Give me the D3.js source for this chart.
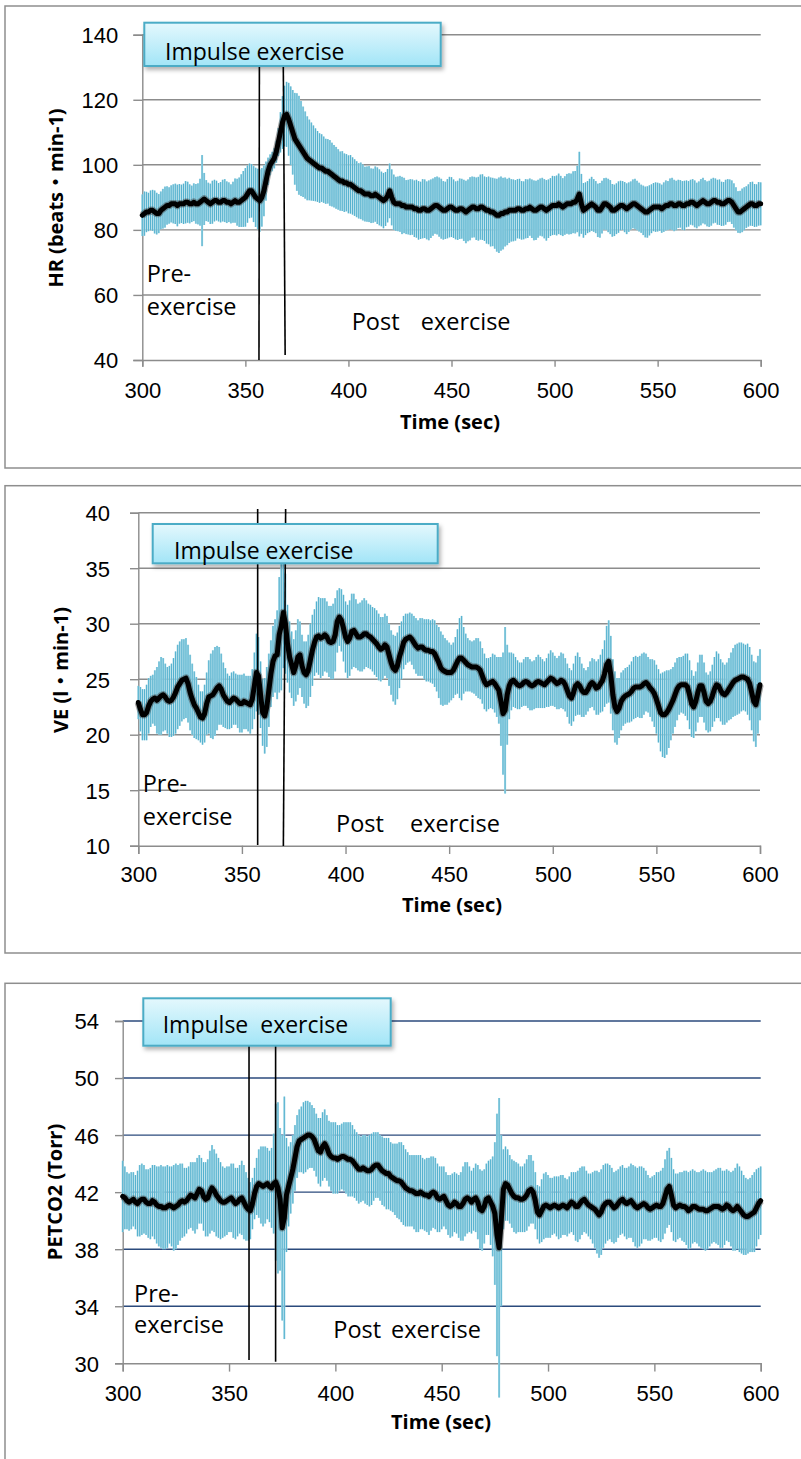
<!DOCTYPE html>
<html>
<head>
<meta charset="utf-8">
<script src="https://cdn.jsdelivr.net/npm/d3@7"></script>
<style>
  body { margin: 0; background: #fff; }
  .tick text { font-family: "Liberation Sans", Arial, sans-serif; font-size: 22px; fill: #000; }
  .lbl { font-family: "Open Sans", "Noto Sans CJK JP", sans-serif; fill: #000; }
</style>
</head>
<body>
<svg id="chart"></svg>
<script>
// time axis, one reading per second
var times = d3.range(300, 601);

// HR (beats/min) mean and SD, 300..600 s
var hrMean = [
  84.5,85,85.5,85.5,86,86,85.5,85,85,86,
  86.5,87,87.5,87.5,88,88,88,87.5,88,88,
  88,88.5,88.5,88,88,88.5,88,88,88.5,89,
  89.5,89,88.5,88,88.5,89,89,88.5,88.5,89,
  89,88.5,88.5,88,88.5,89,88.5,88.5,89,89.5,
  90,91,92,92,91,90,89.5,89,90,92,
  95,98,100,101,102,104,107,110,113,115,
  115.5,114,112,110,108,107,106,105,104,103,
  102,101.5,101,100.5,100,99.5,99,99,98.5,98,
  98,97.5,97,96.5,96,95.5,95,95,94.5,94.5,
  94,94,93.5,93,92.5,92,92,91.5,91,91,
  91,90.5,90.5,91,90.5,90,89.5,89,89.5,90.5,
  92,90,88.5,88,88,88,87.5,87.5,87,87,
  87,87,86.5,86.5,86,86,86.5,86.5,86,86,
  86.5,87,87.5,87.5,87,86.5,86,86,86.5,87,
  87,86.5,86,86,86.5,86.5,86,85.5,86,86.5,
  87,87,86.5,86.5,87,87,86.5,86,86,85.5,
  85.5,85,84.5,84.5,85,85,85.5,85.5,86,86,
  86,86,86.5,86.5,86,86,86.5,86.5,87,86.5,
  86,86,86.5,87,87,86.5,86,86.5,87,87.5,
  87.5,87.5,88,87.5,87,87.5,88,88,88,88.5,
  88.5,89.5,91,88,86,86.5,87,87.5,88,87.5,
  87,86,86,87,88,88,87.5,87,86,86,
  86.5,87,87.5,87.5,87,86.5,87,87.5,88,88,
  87.5,87,86.5,86,85.5,85.5,86,86.5,87,87,
  87,87,86.5,87,87.5,87.5,88,88,87.5,87.5,
  88,88,87.5,87.5,88,88,88.5,88.5,88,87.5,
  88,88.5,89,88.5,88,88,88.5,89,89,88.5,
  88.5,88,88,88.5,89,89,88.5,87.5,86.5,85.5,
  85.5,86,86.5,87,87.5,88,88,87.5,87.5,88,
  88
];
var hrSd = [
  6.4,6.8,6.2,5.9,6.1,6.3,6.6,6.4,6.0,5.8,
  6.1,6.3,5.9,5.6,5.7,6.0,6.2,6.4,6.1,5.9,
  6.2,6.5,6.3,6.0,5.6,5.8,6.1,6.3,7.2,14.0,
  8.0,6.3,6.0,6.2,6.6,6.4,6.1,5.9,6.2,6.4,
  6.6,6.4,6.1,6.0,6.3,6.8,7.2,7.6,8.1,8.6,
  9.0,8.8,8.4,8.2,8.6,9.1,9.3,9.6,9.0,7.8,
  6.0,4.2,3.2,3.0,3.1,3.4,4.3,6.2,8.1,9.3,
  10.0,11.2,12.1,13.0,14.1,15.0,15.2,14.6,13.9,13.4,
  12.9,12.4,12.0,11.6,11.2,10.9,10.7,10.4,10.2,10.0,
  9.9,10.1,9.8,9.6,9.5,9.3,9.1,9.2,9.0,8.8,
  8.9,9.0,8.8,8.7,8.6,8.5,8.7,8.6,8.4,8.5,
  8.6,8.4,8.3,8.5,8.7,8.6,8.4,8.5,8.3,8.2,
  8.4,8.6,8.5,8.3,8.4,8.6,8.8,8.5,8.3,8.4,
  8.6,8.5,8.7,8.9,9.0,8.8,9.1,9.0,8.9,9.2,
  9.0,8.8,8.7,8.9,9.1,9.2,9.0,8.8,9.1,9.3,
  9.2,9.0,8.9,9.1,9.3,9.2,9.4,9.6,9.5,9.7,
  9.4,9.3,9.6,9.8,10.0,10.1,9.9,10.2,10.4,10.6,
  10.5,10.8,11.2,11.6,11.4,11.0,10.6,10.2,10.0,9.6,
  9.5,9.3,9.1,9.2,9.0,8.9,9.1,9.0,8.8,9.0,
  9.2,9.1,8.9,8.8,9.0,9.1,9.3,9.0,8.9,9.1,
  9.0,9.2,9.3,9.1,8.9,9.0,9.2,9.4,9.3,9.5,
  9.6,10.2,13.0,9.2,8.4,8.1,8.0,8.2,8.3,8.1,
  8.0,8.2,8.4,8.1,7.9,8.0,8.2,8.3,8.1,7.9,
  7.8,7.9,7.6,7.5,7.7,7.8,7.6,7.4,7.5,7.7,
  7.6,7.5,7.4,7.6,7.8,7.9,7.7,7.5,7.4,7.6,
  7.5,7.3,7.4,7.6,7.7,7.5,7.8,8.0,7.9,7.6,
  7.4,7.3,7.5,7.6,7.2,7.0,6.9,7.1,7.2,7.0,
  6.9,7.1,7.0,6.8,6.9,7.1,7.2,7.0,6.8,6.9,
  7.0,6.8,6.7,6.9,6.6,6.5,6.7,6.8,6.6,6.4,
  6.5,6.7,6.6,6.4,6.5,6.7,6.8,6.6,6.5,6.7,
  6.6
];

// VE (l/min) mean and SD
var veMean = [
  22.9,22.3,21.8,21.8,22.0,22.6,23.0,23.2,23.3,23.1,
  23.3,23.5,23.6,23.4,23.1,23.0,23.1,23.4,23.8,24.3,
  24.6,24.9,25.0,25.1,24.6,23.8,23.2,22.7,22.4,22.0,
  21.6,21.5,21.9,22.8,23.4,23.5,23.6,23.9,24.2,24.4,
  24.1,23.6,23.3,23.0,22.9,23.1,23.3,23.2,23.0,22.8,
  22.8,23.0,22.9,22.8,22.7,23.2,24.4,25.6,25.3,23.6,
  22.0,21.7,22.5,24.0,25.5,26.6,27.1,27.2,29.0,29.8,
  31.0,30.0,28.2,27.0,26.3,25.6,26.2,27.0,27.2,26.2,
  25.6,25.4,25.8,26.7,27.6,28.3,28.8,28.9,28.7,28.8,
  29.0,28.8,28.4,28.3,28.4,29.0,30.2,30.6,30.3,29.6,
  28.8,28.4,28.7,29.3,29.4,29.1,28.8,28.8,28.9,29.1,
  29.1,28.9,28.8,28.6,28.4,28.2,27.9,27.7,27.8,28.1,
  27.9,27.2,26.5,26.0,25.8,26.2,27.0,27.6,28.3,28.6,
  28.7,28.8,28.6,28.3,28.0,27.8,27.9,27.9,27.7,27.6,
  27.6,27.5,27.5,27.3,26.9,26.5,26.0,25.8,25.7,25.6,
  25.6,25.6,25.8,26.2,26.6,26.9,26.9,26.7,26.5,26.3,
  26.2,26.1,26.1,26.1,26.0,25.8,25.3,24.8,24.5,24.6,
  24.7,24.8,24.6,24.3,24.0,23.0,21.9,22.2,23.6,24.4,
  24.8,24.9,24.7,24.5,24.4,24.5,24.7,24.8,24.7,24.5,
  24.4,24.5,24.7,24.8,24.7,24.6,24.5,24.7,24.9,25.1,
  25.0,24.8,24.6,24.7,24.9,24.8,24.5,24.0,23.5,23.3,
  23.8,24.4,24.6,24.4,24.0,23.8,23.8,24.1,24.5,24.7,
  24.5,24.2,24.3,24.6,24.9,25.5,26.3,26.6,25.4,23.6,
  22.5,22.1,22.4,23.0,23.3,23.5,23.6,23.7,23.9,24.2,
  24.3,24.3,24.3,24.4,24.6,24.7,24.5,24.2,24.0,23.7,
  23.2,22.6,22.0,21.8,21.8,22.0,22.3,22.7,23.1,23.6,
  24.1,24.4,24.5,24.5,24.5,24.3,23.6,22.8,22.5,23.0,
  23.8,24.4,24.4,23.8,23.0,22.8,23.0,23.5,24.1,24.5,
  24.4,24.0,23.7,23.6,23.8,24.1,24.4,24.7,24.9,25.0,
  25.1,25.2,25.2,25.1,25.0,24.6,23.8,23.0,22.7,23.6,
  24.5
];
var veSd = [
  1.5,2.0,2.3,2.3,2.5,2.5,2.3,2.2,2.5,3.0,
  3.3,3.5,3.3,3.0,3.0,3.2,3.3,3.5,3.7,3.8,
  3.8,3.7,3.6,3.6,3.5,3.4,3.2,3.0,2.8,2.5,
  2.3,2.4,2.6,2.8,3.3,3.8,4.0,4.0,3.8,3.5,
  3.2,2.9,2.7,2.5,2.4,2.5,2.4,2.3,2.4,2.6,
  2.6,2.5,2.4,2.5,2.6,2.7,3.0,3.5,3.5,3.0,
  3.0,3.4,3.6,3.3,3.0,3.2,3.3,4.0,5.2,5.8,
  5.0,4.5,3.5,3.2,3.0,3.0,3.2,3.4,3.0,2.8,
  2.8,3.0,3.2,3.3,3.2,3.0,3.2,3.5,3.6,3.5,
  3.3,3.2,3.2,3.3,3.4,3.3,2.8,2.6,2.8,3.0,
  3.2,3.3,3.4,3.4,3.3,3.1,3.0,3.1,3.2,3.2,
  3.0,2.9,2.9,2.9,3.0,3.0,3.0,2.9,2.8,2.8,
  2.8,2.8,2.9,3.0,3.1,3.0,2.8,2.6,2.4,2.3,
  2.2,2.2,2.3,2.4,2.5,2.5,2.6,2.6,2.7,2.8,
  2.8,2.8,2.9,3.0,3.0,3.2,3.3,3.2,3.0,2.9,
  2.7,2.5,2.5,2.6,2.9,3.6,3.8,3.0,2.6,2.4,
  2.3,2.3,2.4,2.6,2.7,2.6,2.5,2.5,2.4,2.3,
  2.3,2.5,2.6,2.7,3.0,4.0,5.5,7.5,4.5,3.0,
  2.6,2.4,2.3,2.2,2.1,2.0,2.1,2.2,2.3,2.3,
  2.2,2.2,2.3,2.4,2.3,2.2,2.1,2.2,2.4,2.5,
  2.4,2.3,2.3,2.4,2.5,2.5,2.4,2.4,2.5,2.5,
  2.6,2.7,2.8,2.6,2.4,2.2,2.0,2.0,2.1,2.2,
  2.3,2.4,2.5,2.6,2.8,3.0,3.5,3.7,3.5,3.2,
  3.2,3.0,2.7,2.6,2.5,2.5,2.5,2.6,2.7,2.8,
  2.8,2.7,2.8,2.9,2.8,2.6,2.5,2.6,2.8,3.0,
  3.1,3.3,3.5,3.8,3.9,3.8,3.5,3.2,3.0,2.9,
  2.8,2.6,2.5,2.6,2.8,3.0,3.1,3.0,2.8,2.7,
  2.7,2.8,2.8,2.7,2.6,2.6,2.7,2.8,2.9,3.0,
  2.9,2.8,2.8,2.7,2.7,2.8,3.0,3.1,3.2,3.2,
  3.2,3.1,3.0,3.0,3.2,3.3,3.4,3.6,3.8,3.5,
  3.2
];

// PETCO2 (Torr) mean and SD
var pcMean = [
  41.7,41.6,41.4,41.3,41.4,41.5,41.3,41.2,41.4,41.5,
  41.5,41.3,41.2,41.2,41.4,41.3,41.1,41.0,41.0,40.9,
  40.9,41.0,41.1,41.0,40.9,41.0,41.1,41.3,41.4,41.3,
  41.4,41.6,41.8,41.7,41.6,41.9,42.2,42.1,41.7,41.5,
  41.6,42.0,42.3,42.1,41.8,41.6,41.4,41.3,41.3,41.4,
  41.5,41.6,41.4,41.2,41.3,41.5,41.6,41.3,41.0,40.8,
  40.7,41.2,41.9,42.4,42.6,42.5,42.4,42.5,42.6,42.4,
  42.3,42.6,42.7,42.3,41.5,39.5,40.2,41.8,42.4,43.0,
  43.6,44.4,45.2,45.6,45.7,45.8,45.9,46.0,46.0,45.9,
  45.7,45.3,44.9,44.8,45.2,45.4,45.1,44.7,44.5,44.4,
  44.4,44.3,44.4,44.5,44.5,44.4,44.3,44.3,44.2,44.0,
  43.8,43.6,43.6,43.7,43.6,43.5,43.5,43.6,43.8,43.9,
  43.9,43.7,43.5,43.4,43.3,43.3,43.1,43.0,42.9,42.8,
  42.8,42.7,42.5,42.3,42.2,42.1,42.1,42.0,41.9,41.9,
  42.0,41.9,41.8,41.8,41.7,41.9,42.0,41.9,41.6,41.5,
  41.6,41.7,41.4,41.1,41.0,41.1,41.3,41.2,41.0,41.0,
  41.2,41.5,41.6,41.5,41.3,41.5,41.6,41.3,40.8,40.7,
  41.0,41.5,41.6,41.3,41.0,40.5,39.0,38.1,40.0,42.2,
  42.6,42.5,42.2,41.9,41.7,41.6,41.6,41.5,41.5,41.6,
  41.8,42.1,42.2,42.0,41.4,40.6,40.4,40.7,41.0,41.1,
  41.0,40.9,41.0,41.1,41.0,40.9,41.0,41.1,41.0,40.9,
  41.1,41.3,41.2,41.0,41.0,41.2,41.4,41.5,41.3,41.1,
  41.0,40.9,40.8,40.6,40.4,40.6,41.0,41.2,41.3,41.3,
  41.1,40.9,41.0,41.2,41.4,41.5,41.3,41.2,41.3,41.4,
  41.2,41.0,40.9,41.0,41.1,41.2,41.1,40.9,40.8,40.9,
  41.0,41.1,41.0,41.0,41.2,41.7,42.2,42.4,41.8,41.1,
  40.9,41.0,41.1,41.0,41.0,40.9,40.7,40.8,41.0,41.0,
  40.9,40.8,40.8,40.8,40.7,40.7,40.8,40.9,41.0,41.0,
  41.0,40.9,40.8,40.9,41.1,41.0,40.8,40.7,40.8,41.0,
  40.8,40.6,40.4,40.3,40.3,40.4,40.5,40.6,40.9,41.2,
  41.4
];
var pcSd = [
  2.5,2.2,2.0,2.0,2.0,1.9,1.9,2.3,2.5,2.5,
  2.4,2.3,2.4,2.5,2.5,2.6,2.7,2.8,2.9,2.9,
  2.9,2.9,2.7,2.8,3.0,3.0,2.8,2.7,2.6,2.4,
  2.3,2.2,2.3,2.4,2.5,2.5,2.4,2.3,2.4,2.6,
  2.7,2.9,3.0,2.9,2.9,2.8,2.7,2.5,2.4,2.4,
  2.3,2.4,2.6,2.5,2.4,2.4,2.6,2.6,2.4,2.2,
  2.0,1.8,1.8,2.0,2.4,2.7,2.8,2.7,2.5,2.5,
  2.8,3.5,5.5,6.0,5.0,6.5,8.5,4.0,2.8,2.5,
  2.4,2.3,2.2,2.2,2.3,2.5,2.5,2.4,2.3,2.2,
  2.2,2.2,2.3,2.4,2.4,2.4,2.3,2.3,2.4,2.5,
  2.5,2.4,2.3,2.3,2.4,2.5,2.6,2.6,2.5,2.4,
  2.4,2.4,2.3,2.3,2.4,2.4,2.5,2.5,2.4,2.3,
  2.3,2.3,2.4,2.4,2.5,2.5,2.4,2.4,2.5,2.6,
  2.7,2.8,2.8,2.7,2.6,2.5,2.5,2.6,2.7,2.7,
  2.6,2.5,2.5,2.6,2.7,2.6,2.5,2.5,2.4,2.3,
  2.2,2.1,2.0,2.1,2.2,2.2,2.1,2.1,2.2,2.4,
  2.6,2.6,2.5,2.3,2.2,2.2,2.4,2.6,2.8,2.8,
  2.6,2.5,2.6,3.0,3.5,5.0,8.5,10.5,6.0,2.8,
  2.6,2.5,2.4,2.4,2.5,2.5,2.4,2.3,2.3,2.4,
  2.5,2.5,2.4,2.2,2.0,1.9,2.0,2.2,2.3,2.3,
  2.2,2.1,2.0,2.0,2.1,2.2,2.2,2.1,2.0,2.0,
  2.0,2.1,2.2,2.4,2.5,2.5,2.4,2.3,2.2,2.2,
  2.3,2.5,2.7,2.9,3.0,3.0,2.9,2.8,2.7,2.6,
  2.6,2.5,2.5,2.4,2.4,2.4,2.4,2.5,2.5,2.6,
  2.7,2.8,2.8,2.8,2.7,2.5,2.4,2.3,2.2,2.2,
  2.2,2.3,2.4,2.5,2.5,2.6,2.7,2.7,2.6,2.5,
  2.4,2.3,2.3,2.4,2.5,2.6,2.7,2.7,2.6,2.5,
  2.5,2.6,2.7,2.8,2.8,2.7,2.6,2.5,2.5,2.6,
  2.7,2.8,2.7,2.6,2.5,2.5,2.6,2.8,2.9,3.0,
  3.0,2.9,2.8,2.7,2.6,2.6,2.7,2.8,2.7,2.5,
  2.4
];

var xTicks = [300, 350, 400, 450, 500, 550, 600];
var hrTicks = [40, 60, 80, 100, 120, 140];
var veTicks = [10, 15, 20, 25, 30, 35, 40];
var pcTicks = [30, 34, 38, 42, 46, 50, 54];

// exercise bout markers (sec): [top, bottom]
var hrMarks = [[356.8, 356.6], [368.4, 369.3]];
var veMarks = [[357.6, 357.6], [371.1, 370.0]];
var pcMarks = [[359.4, 359.4], [371.9, 371.9]];

var W = 801, H = 1459;
var svg = d3.select('#chart').attr('width', W).attr('height', H);
var defs = svg.append('defs');
var grad = defs.append('linearGradient').attr('id', 'boxFill')
  .attr('x1', 0).attr('y1', 0).attr('x2', 0).attr('y2', 1);
grad.append('stop').attr('offset', '0%').attr('stop-color', '#e4f8fd');
grad.append('stop').attr('offset', '100%').attr('stop-color', '#a2e5f7');
var shadow = defs.append('filter').attr('id', 'shadow')
  .attr('x', '-10%').attr('y', '-20%').attr('width', '130%').attr('height', '170%');
shadow.append('feDropShadow').attr('dx', 2).attr('dy', 3).attr('stdDeviation', 2)
  .attr('flood-color', '#000').attr('flood-opacity', 0.3);

var panels = [
  { frame: [5, 6, 800, 462], left: 142.3, right: 760.7, top: 34.7, bottom: 360,
    domain: [40, 140], ticks: hrTicks, mean: hrMean, sd: hrSd, marks: hrMarks,
    grid: '#8c8c8c', ytick: 9, ypad: 15, xtick: 6.7, xlabY: 22.4,
    box: [144.3, 22.7, 296.4, 43.3], boxText: 'Impulse exercise', boxTx: 165, boxTy: 59.5,
    markTop: 66, markBot: [360, 355],
    ylabel: 'HR (beats・min-1)', ylabX: 63, ylabY: 198,
    xlabBase: 429, xlabX: 450,
    pre: [146.7, 281.5, 315], post: [351.7, 420.7, 329.5] },
  { frame: [5, 485.7, 800, 467.3], left: 138.3, right: 760, top: 512.7, bottom: 845.7,
    domain: [10, 40], ticks: veTicks, mean: veMean, sd: veSd, marks: veMarks,
    grid: '#8c8c8c', ytick: 8.3, ypad: 20, xtick: 8.3, xlabY: 20.4,
    box: [152.7, 524, 285, 39.3], boxText: 'Impulse exercise', boxTx: 174, boxTy: 559,
    markTop: 509, markBot: [845, 846],
    ylabel: 'VE (l・min-1)', ylabX: 68, ylabY: 670,
    xlabBase: 912, xlabX: 452,
    pre: [142.7, 791.7, 825], post: [336, 410, 831.7] },
  { frame: [5, 983.3, 800, 480], left: 122.7, right: 760.7, top: 1021, bottom: 1363.3,
    domain: [30, 54], ticks: pcTicks, mean: pcMean, sd: pcSd, marks: pcMarks,
    grid: '#2b4a7c', ytick: 7.7, ypad: 16, xtick: 8.3, xlabY: 21.6,
    box: [143.3, 998.3, 247.4, 47.4], boxText: 'Impulse  exercise', boxTx: 162.7, boxTy: 1033,
    markTop: 1046, markBot: [1360, 1361.7],
    ylabel: 'PETCO2 (Torr)', ylabX: 62, ylabY: 1192,
    xlabBase: 1429, xlabX: 441,
    pre: [134, 1301.7, 1333.3], post: [333.3, 391, 1338.3] }
];

panels.forEach(function (p) {
  var g = svg.append('g');
  var x = d3.scaleLinear().domain([300, 600]).range([p.left, p.right]);
  var y = d3.scaleLinear().domain(p.domain).range([p.bottom, p.top]);

  // chart frame
  g.append('rect')
    .attr('x', p.frame[0]).attr('y', p.frame[1])
    .attr('width', p.frame[2]).attr('height', p.frame[3])
    .attr('fill', 'none').attr('stroke', '#8e8e8e').attr('stroke-width', 1.5);

  // horizontal gridlines
  var gridVals = p.ticks.slice(1);
  g.append('g').selectAll('line').data(gridVals).enter().append('line')
    .attr('x1', p.left).attr('x2', p.right)
    .attr('y1', function (d) { return y(d); }).attr('y2', function (d) { return y(d); })
    .attr('stroke', p.grid).attr('stroke-width', 1.4);

  // y axis
  var ya = g.append('g').attr('transform', 'translate(' + p.left + ',0)')
    .call(d3.axisLeft(y).tickValues(p.ticks).tickSize(p.ytick).tickPadding(p.ypad).tickFormat(d3.format('d')));
  ya.select('.domain').attr('stroke', '#8c8c8c').attr('stroke-width', 1.4);
  ya.selectAll('.tick line').attr('stroke', '#8c8c8c').attr('stroke-width', 1.4);
  ya.selectAll('.tick text').attr('dy', '0.36em');

  // x axis
  var xa = g.append('g').attr('transform', 'translate(0,' + p.bottom + ')')
    .call(d3.axisBottom(x).tickValues(xTicks).tickSize(p.xtick).tickPadding(p.xlabY - p.xtick));
  xa.select('.domain').attr('stroke', '#8c8c8c').attr('stroke-width', 1.4);
  xa.selectAll('.tick line').attr('stroke', '#8c8c8c').attr('stroke-width', 1.4);

  // error bars: light body + darker core
  var bars = g.append('g');
  bars.selectAll('line.bg').data(times).enter().append('line').attr('class', 'bg')
    .attr('x1', function (d) { return x(d); }).attr('x2', function (d) { return x(d); })
    .attr('y1', function (d, i) { return y(p.mean[i] + p.sd[i]); })
    .attr('y2', function (d, i) { return y(p.mean[i] - p.sd[i]); })
    .attr('stroke', '#abdbe8').attr('stroke-width', 2.1);
  bars.selectAll('line.fg').data(times).enter().append('line').attr('class', 'fg')
    .attr('x1', function (d) { return x(d); }).attr('x2', function (d) { return x(d); })
    .attr('y1', function (d, i) { return y(p.mean[i] + p.sd[i]); })
    .attr('y2', function (d, i) { return y(p.mean[i] - p.sd[i]); })
    .attr('stroke', '#4aaccb').attr('stroke-width', 0.9);

  // mean line
  var line = d3.line()
    .x(function (d) { return x(d); })
    .y(function (d, i) { return y(p.mean[i]); });
  g.append('path').datum(times).attr('d', line)
    .attr('fill', 'none').attr('stroke', '#3a3a3a').attr('stroke-opacity', 0.45)
    .attr('stroke-width', 7.5).attr('stroke-linejoin', 'round');
  g.append('path').datum(times).attr('d', line)
    .attr('fill', 'none').attr('stroke', '#000').attr('stroke-width', 5)
    .attr('stroke-linejoin', 'round').attr('stroke-linecap', 'round');

  // exercise markers
  g.append('g').selectAll('line').data(p.marks).enter().append('line')
    .attr('x1', function (d) { return x(d[0]); })
    .attr('x2', function (d) { return x(d[1]); })
    .attr('y1', p.markTop)
    .attr('y2', function (d, i) { return p.markBot[i]; })
    .attr('stroke', '#000').attr('stroke-width', 1.6);

  // impulse exercise box
  g.append('rect')
    .attr('x', p.box[0]).attr('y', p.box[1]).attr('width', p.box[2]).attr('height', p.box[3])
    .attr('fill', 'url(#boxFill)').attr('stroke', '#4bacc6').attr('stroke-width', 2)
    .attr('filter', 'url(#shadow)');
  g.append('text').attr('class', 'lbl')
    .attr('x', p.boxTx).attr('y', p.boxTy)
    .style('font-size', '23px').style('white-space', 'pre')
    .text(p.boxText);

  // phase labels
  g.append('text').attr('class', 'lbl').attr('x', p.pre[0]).attr('y', p.pre[1])
    .style('font-size', '23.5px').text('Pre-');
  g.append('text').attr('class', 'lbl').attr('x', p.pre[0]).attr('y', p.pre[2])
    .style('font-size', '23.5px').text('exercise');
  g.append('text').attr('class', 'lbl').attr('x', p.post[0]).attr('y', p.post[2])
    .style('font-size', '23.5px').text('Post');
  g.append('text').attr('class', 'lbl').attr('x', p.post[1]).attr('y', p.post[2])
    .style('font-size', '23.5px').text('exercise');

  // axis titles
  g.append('text').attr('class', 'lbl')
    .attr('x', p.xlabX).attr('y', p.xlabBase)
    .attr('text-anchor', 'middle')
    .style('font-size', '20px').style('font-weight', 'bold')
    .text('Time (sec)');
  g.append('text').attr('class', 'lbl')
    .attr('transform', 'translate(' + p.ylabX + ',' + p.ylabY + ') rotate(-90)')
    .attr('text-anchor', 'middle')
    .style('font-size', '20px').style('font-weight', 'bold')
    .text(p.ylabel);
});
</script>
</body>
</html>
